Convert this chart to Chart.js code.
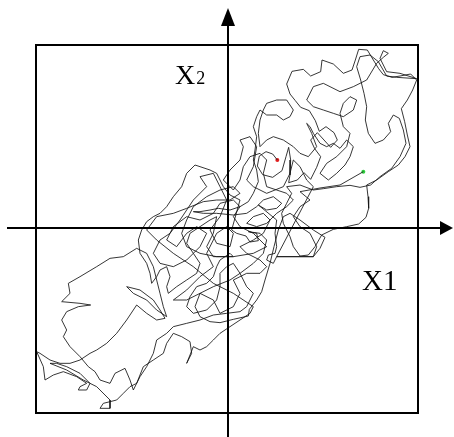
<!DOCTYPE html>
<html>
<head>
<meta charset="utf-8">
<title>Trajectoire X1 / X2</title>
<script src="https://cdn.jsdelivr.net/npm/chart.js@4/dist/chart.umd.min.js"></script>
<style>
    html, body { margin: 0; padding: 0; background: #fff; }
    #wrap { width: 454px; height: 437px; }
</style>
</head>
<body>
<div id="wrap"><canvas id="chart" width="454" height="437"></canvas></div>
<script>
// --- Données ---
// Trajectoire, dans le repère (X1, X2) ; origine au croisement des axes.

const trajX = [
    148, 134, 114, 94, 88, 104, 134, 162, 174, 182, 188, 186, 182, 208, 228, 248, 266, 278, 260, 248,
    268, 288, 308, 328, 318, 294, 274, 262, 244, 218, 202, 186, 176, 192, 226, 248, 278, 282, 316, 346,
    372, 382, 392, 418, 436, 452, 466, 492, 516, 548, 566, 554, 538, 520, 530, 538, 546, 531, 511, 481,
    446, 416, 420, 422, 414, 392, 356, 316, 281, 261, 241, 216, 196, 186, 176, 166, 161, 176, 191, 176,
    216, 256, 286, 326, 366, 396, 428,
    456, 491, 516, 534, 526, 514, 496, 481, 488, 466, 441, 421, 412, 416, 408, 398, 386, 396, 426, 451,
    476, 506, 566, 516, 476, 456, 466, 481, 466, 446, 416, 376, 336, 306, 286, 256, 236, 256, 286, 316,
    346, 376, 386, 366, 346, 336, 346, 366, 356, 326, 296, 276, 301, 326, 351, 366, 376, 356, 336, 316,
    296, 276, 256, 246, 236, 251, 266, 241, 216, 196, 166, 136, 116, 96, 91, 96, 106, 116, 146, 176,
    196, 186, 166, 146, 116, 96, 86, 76, 86, 81, 76, 86, 91, 76, 61, 36, 6, -29, -54, -84,
    -104, -74, -34, 16, 56, 86,
    106, 136, 161, 146, 116, 91,
    146, 141, 146, 141, 121, 116, 136, 146, 256, 276, 291, 256, 216, 186, 166, 151, 138, 126, 111, 101,
    86, 64, 61, 16, -24, -54, -84, -99, -84, -44, 6, 36, 76, 106, 116, 96, 61, 86, 91, 66,
    54, 26, 11,
    36, 6, -14, -24, -34, -54, -84, -99, -124, -139, -164, -184, -204, -224, -244, -259, -269, -264, -244, -234,
    -229, -214, -204, -184, -174, -184, -179,
    -154, -124, -94, -84, -104, -124, -114, -84, -54, -34, -44, -64, -44, 16, 6, -24, -34, -44, -64, -94,
    -114, -124, -104, -64, -34, -24, -24, -4, 16, 36, 56, 76,
    56, 36, -4, -44, -84, -124, -164, -184, -214, -224, -244, -264, -284, -294, -309, -339, -354, -384, -399, -419,
    -444, -474, -494, -484, -499, -484, -449, -412, -444, -499, -474, -479, -444, -394, -354, -314, -274,
    -244, -224, -214, -204, -194, -184, -214, -244, -284, -304, -264, -224, -204, -189, -214, -244, -274,
    -304, -334, -364, -394, -414, -444, -474, -504, -534, -564, -574, -554, -549, -524, -494, -454, -424, -444, -449, -424,
    -414, -444, -484, -514, -534, -484, -434, -394, -354, -354, -384, -374, -334, -314, -294,
    -274, -254, -224, -194, -184, -164, -139, -114, -109, -124, -104, -84, -64, -44, -24, 6, 36, 66, 76,
    16, -44, -104, -164, -214, -244, -214, -164, -124, -74, -34, 6, 36, 16, -24, -64, -104, -124, -139, -124,
    -84, -34, 16, 76, 116,
    76, 36, 16, 36, 16, -24, -44, -84, -124, -164, -184, -154, -124, -94, -64, -84, -124, -164, -204, -224,
    -204, -174, -144, -104, -64, -84, -44, -24, -4, -24, -54, -34, 6, 16, -4, -34, -64, -44, -84, -124,
    -164, -124, -84, -44, -24, 16, 36, 16, 56, 96, 116, 96, 56, 36, 76, 106, 126, 106, 76, 56,
    86, 116, 146, 176, 196, 176, 146, 116, 106, 116, 96, 66, 46, 36, 16, -14, 6, 36, 46, 36,
    66, 86, 76, 56, 76, 116, 166, 186, 196, 216, 236, 256,
    146, 256, 266, 246, 216, 196, 216, 246, 216, 276, 336, 406
];

const trajY = [
    204, 222, 229, 216, 186, 160, 152, 172, 214, 242, 204, 159, 136, 144, 166, 146, 182, 214, 238, 264,
    286, 264, 242, 264, 286, 304, 290, 322, 352, 362, 382, 402, 432, 470, 476, 456, 469, 504, 492, 464,
    474, 504, 536, 534, 504, 478, 460, 452, 456, 462, 444, 414, 384, 358, 319, 279, 244, 214, 189, 169,
    144, 129, 94, 59, 32, 12, 4, -4, -21, -56, -81, -84, -56, -26, -6, 14, 44, 74, 104, 124,
    129, 114, 118, 124, 128, 122, 129,
    154, 179, 214, 254, 294, 329, 339, 314, 289, 264, 254, 284, 324, 364, 404, 444, 484, 514, 519, 499,
    456, 452, 448, 464, 469, 509, 532, 524, 512, 494, 444, 424, 409, 424, 434, 424, 384, 364, 354, 344,
    334, 354, 384, 394, 374, 344, 304, 284, 244, 214, 194, 164, 144, 164, 189, 214, 244, 264, 239, 254,
    244, 254, 284, 304, 314, 284, 244, 214, 224, 244, 264, 274, 264, 244, 284, 324, 354, 374, 384, 384,
    354, 334, 324, 339, 339, 354, 334, 304, 274, 234, 204, 174, 139, 104, 79, 64, 54, 59, 54, 49,
    49, 44, 44, 39, 44, 64,
    84, 94, 74, 59, 54, 69,
    24, -16, -56, -76, -81, -96, -106, -86, -86, -61, -28, -6, 24, 44, 34, -6, -56, -106, -156, -191,
    -216, -244, -264, -274, -284, -281, -266, -236, -196, -176, -156, -136, -106, -76, -36, -16, -11, -16, -38, -42,
    -24, -16, -6,
    84, 99, 124, 144, 164, 174, 184, 189, 164, 124, 94, 64, 44, 34, 19, -6, -36, -76, -106, -136,
    -166, -146, -126, -116, -146, -176, -196,
    -176, -156, -136, -106, -76, -46, -16, 4, 24, 34, -16, -56, -86, -86, -76, -96, -116, -146, -166, -176,
    -206, -236, -256, -246, -216, -176, -136, -116, -106, -136, -176, -196,
    -236, -251, -256, -261, -276, -286, -296, -316, -336, -376, -416, -446, -486, -456, -421, -436, -466, -456, -431, -416,
    -386, -356, -326, -306, -276, -251, -236, -231, -226, -221, -196, -166, -146, -116, -91, -86, -61,
    -76, -116, -156, -196, -236, -266, -246, -216, -196, -176, -186, -216, -246, -271, -276, -256, -231,
    -276, -316, -346, -366, -376, -396, -406, -406, -396, -376, -371, -416, -456, -441, -431, -446, -466, -476, -486, -486,
    -466, -436, -416, -406, -406, -426, -456, -476, -516, -541, -541, -526, -516, -496, -476,
    -466, -416, -396, -376, -346, -316, -326, -341, -376, -406, -356, -366, -356, -336, -316, -296, -276, -256, -236,
    -196, -166, -116, -76, -36, -6, 34, 44, 59, 79, 84, 84, 104, 124, 114, 94, 64, 24, -16, -56,
    -76, -86, -86, -76, -56,
    -16, 4, 34, 64, 84, 74, 44, 24, 34, 4, -36, -56, -16, 4, -16, -56, -96, -116, -106, -76,
    -36, -16, 24, 84, 124, 154, 164, 124, 84, 34, -6, -46, -56, -16, 4, -16, -76, -116, -146, -186,
    -216, -216, -196, -216, -256, -236, -196, -156, -136, -136, -116, -96, -76, -56, -36, -16, 24, 44, 34, 14,
    4, 14, 44, 64, 84, 104, 114, 124, 164, 204, 224, 214, 184, 144, 114, 144, 174, 204, 244, 264,
    274, 244, 184, 144, 124, 104, 124, 164, 204, 184, 144, 124,
    -86, -86, -56, -16, 4, 34, 64, 84, 109, 120, 129, 169
];

// Bornes du cadre, dans les mêmes unités
const xRange = [-576, 570];
const yRange = [-555, 549];

const axisLabels = { x: 'X', xSub: '1', y: 'X', ySub: '2' };

// --- Cadre, axes fléchés et libellés ---

const framePlugin = {
    id: 'frame',
    afterDraw(chart) {
        const ctx = chart.ctx;
        const area = chart.chartArea;
        const x0 = chart.scales.x.getPixelForValue(0);
        const y0 = chart.scales.y.getPixelForValue(0);
        const W = chart.width, H = chart.height;

        ctx.save();
        ctx.strokeStyle = '#000';
        ctx.fillStyle = '#000';
        ctx.lineWidth = 2;
        ctx.strokeRect(area.left, area.top, area.right - area.left, area.bottom - area.top);

        // axe vertical
        ctx.beginPath();
        ctx.moveTo(x0, H);
        ctx.lineTo(x0, 24);
        ctx.stroke();
        ctx.beginPath();
        ctx.moveTo(x0, 8);
        ctx.lineTo(x0 - 7, 26);
        ctx.lineTo(x0 + 7, 26);
        ctx.closePath();
        ctx.fill();

        // axe horizontal
        ctx.beginPath();
        ctx.moveTo(7, y0);
        ctx.lineTo(W - 12, y0);
        ctx.stroke();
        ctx.beginPath();
        ctx.moveTo(W - 1, y0);
        ctx.lineTo(W - 14, y0 - 7);
        ctx.lineTo(W - 14, y0 + 7);
        ctx.closePath();
        ctx.fill();

        // libellés
        ctx.textBaseline = 'alphabetic';
        ctx.font = '28px "Liberation Serif", serif';
        ctx.fillText(axisLabels.y, x0 - 53, 84);
        const wY = ctx.measureText(axisLabels.y).width;
        ctx.font = '18px "Liberation Serif", serif';
        ctx.fillText(axisLabels.ySub, x0 - 52 + wY, 84);

        ctx.font = '29px "Liberation Serif", serif';
        ctx.fillText(axisLabels.x + axisLabels.xSub, x0 + 134, y0 + 62);
        ctx.restore();
    }
};

const path = trajX.map((x, i) => ({ x: x, y: trajY[i] }));
const last = trajX.length - 1;

new Chart(document.getElementById('chart'), {
    type: 'scatter',
    data: {
        datasets: [
            {
                data: path,
                showLine: true,
                borderColor: 'rgba(20,20,20,0.85)',
                borderWidth: 1,
                pointRadius: 0,
                tension: 0
            },
            {
                data: [{ x: trajX[0], y: trajY[0] }],
                pointRadius: 2,
                pointBackgroundColor: '#e02020',
                pointBorderWidth: 0
            },
            {
                data: [{ x: trajX[last], y: trajY[last] }],
                pointRadius: 2,
                pointBackgroundColor: '#30d040',
                pointBorderWidth: 0
            }
        ]
    },
    options: {
        responsive: false,
        animation: false,
        layout: { padding: { left: 36, right: 36, top: 45, bottom: 24 } },
        plugins: { legend: { display: false }, tooltip: { enabled: false } },
        scales: {
            x: { type: 'linear', min: xRange[0], max: xRange[1], display: false },
            y: { type: 'linear', min: yRange[0], max: yRange[1], display: false }
        }
    },
    plugins: [framePlugin]
});
</script>
</body>
</html>
